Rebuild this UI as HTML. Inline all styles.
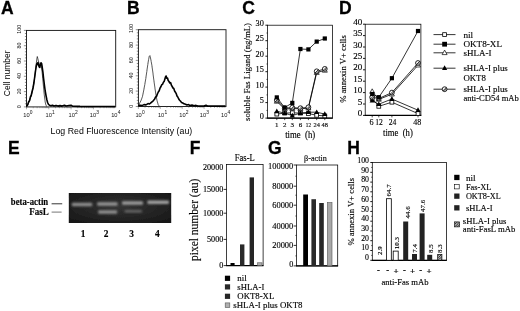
<!DOCTYPE html>
<html><head><meta charset="utf-8"><title>Figure</title>
<style>
html,body{margin:0;padding:0;background:#fff;}
body{width:520px;height:311px;overflow:hidden;}
svg{display:block;}
.se{font-family:'Liberation Serif',serif;stroke:#000;stroke-width:0.14px;}
.sa{font-family:'Liberation Sans',sans-serif;}
</style></head><body>
<svg width="520" height="311" viewBox="0 0 520 311">
<defs>
<pattern id="hat" width="2.4" height="2.4" patternUnits="userSpaceOnUse"><rect width="2.4" height="2.4" fill="#fff"/><path d="M0,2.4 L2.4,0 M-0.6,0.6 L0.6,-0.6 M1.8,3 L3,1.8" stroke="#000" stroke-width="0.85"/></pattern>
<pattern id="hat2" width="2.2" height="2.2" patternUnits="userSpaceOnUse"><rect width="2.2" height="2.2" fill="#fff"/><path d="M0,2.2 L2.2,0 M-0.6,0.6 L0.6,-0.6 M1.6,2.8 L2.8,1.6" stroke="#000" stroke-width="0.5"/></pattern>
<filter id="b1" x="-10%" y="-50%" width="120%" height="200%"><feGaussianBlur stdDeviation="0.9"/></filter>
<filter id="b0"><feGaussianBlur stdDeviation="0.35"/></filter>
<radialGradient id="gel" cx="50%" cy="45%" r="70%"><stop offset="0" stop-color="#343434"/><stop offset="1" stop-color="#161616"/></radialGradient>
</defs>
<rect width="520" height="311" fill="#fff"/>
<g filter="url(#b0)">

<text class="sa" x="0.9" y="14.4" font-size="17.5" font-weight="bold" stroke="#000" stroke-width="0.3">A</text>
<text class="sa" x="127" y="13.6" font-size="17.5" font-weight="bold" stroke="#000" stroke-width="0.3">B</text>
<text class="sa" x="242.2" y="13.8" font-size="17.5" font-weight="bold" stroke="#000" stroke-width="0.3">C</text>
<text class="sa" x="339.1" y="13.6" font-size="17.5" font-weight="bold" stroke="#000" stroke-width="0.3">D</text>
<text class="sa" x="8.1" y="153.6" font-size="17.5" font-weight="bold" stroke="#000" stroke-width="0.3">E</text>
<text class="sa" x="189.7" y="154.2" font-size="17.5" font-weight="bold" stroke="#000" stroke-width="0.3">F</text>
<text class="sa" x="268" y="153.7" font-size="17.5" font-weight="bold" stroke="#000" stroke-width="0.3">G</text>
<text class="sa" x="347.3" y="153.6" font-size="17.5" font-weight="bold" stroke="#000" stroke-width="0.3">H</text>
<rect x="26.5" y="30.4" width="89.2" height="76.5" fill="none" stroke="#111" stroke-width="0.9"/>
<line x1="23.9" y1="106.9" x2="26.5" y2="106.9" stroke="#222" stroke-width="0.5"/>
<line x1="24.9" y1="103.8" x2="26.5" y2="103.8" stroke="#222" stroke-width="0.5"/>
<line x1="24.9" y1="100.8" x2="26.5" y2="100.8" stroke="#222" stroke-width="0.5"/>
<line x1="24.9" y1="97.7" x2="26.5" y2="97.7" stroke="#222" stroke-width="0.5"/>
<line x1="24.9" y1="94.7" x2="26.5" y2="94.7" stroke="#222" stroke-width="0.5"/>
<line x1="23.9" y1="91.6" x2="26.5" y2="91.6" stroke="#222" stroke-width="0.5"/>
<line x1="24.9" y1="88.5" x2="26.5" y2="88.5" stroke="#222" stroke-width="0.5"/>
<line x1="24.9" y1="85.5" x2="26.5" y2="85.5" stroke="#222" stroke-width="0.5"/>
<line x1="24.9" y1="82.4" x2="26.5" y2="82.4" stroke="#222" stroke-width="0.5"/>
<line x1="24.9" y1="79.4" x2="26.5" y2="79.4" stroke="#222" stroke-width="0.5"/>
<line x1="23.9" y1="76.3" x2="26.5" y2="76.3" stroke="#222" stroke-width="0.5"/>
<line x1="24.9" y1="73.2" x2="26.5" y2="73.2" stroke="#222" stroke-width="0.5"/>
<line x1="24.9" y1="70.2" x2="26.5" y2="70.2" stroke="#222" stroke-width="0.5"/>
<line x1="24.9" y1="67.1" x2="26.5" y2="67.1" stroke="#222" stroke-width="0.5"/>
<line x1="24.9" y1="64.1" x2="26.5" y2="64.1" stroke="#222" stroke-width="0.5"/>
<line x1="23.9" y1="61.0" x2="26.5" y2="61.0" stroke="#222" stroke-width="0.5"/>
<line x1="24.9" y1="57.9" x2="26.5" y2="57.9" stroke="#222" stroke-width="0.5"/>
<line x1="24.9" y1="54.9" x2="26.5" y2="54.9" stroke="#222" stroke-width="0.5"/>
<line x1="24.9" y1="51.8" x2="26.5" y2="51.8" stroke="#222" stroke-width="0.5"/>
<line x1="24.9" y1="48.8" x2="26.5" y2="48.8" stroke="#222" stroke-width="0.5"/>
<line x1="23.9" y1="45.7" x2="26.5" y2="45.7" stroke="#222" stroke-width="0.5"/>
<line x1="24.9" y1="42.6" x2="26.5" y2="42.6" stroke="#222" stroke-width="0.5"/>
<line x1="24.9" y1="39.6" x2="26.5" y2="39.6" stroke="#222" stroke-width="0.5"/>
<line x1="24.9" y1="36.5" x2="26.5" y2="36.5" stroke="#222" stroke-width="0.5"/>
<line x1="24.9" y1="33.5" x2="26.5" y2="33.5" stroke="#222" stroke-width="0.5"/>
<line x1="23.9" y1="30.4" x2="26.5" y2="30.4" stroke="#222" stroke-width="0.5"/>
<text class="sa" x="21.3" y="106.7" font-size="5.3" text-anchor="middle" transform="rotate(-90 21.3 106.7)" fill="#111">0</text>
<text class="sa" x="21.3" y="91.4" font-size="5.3" text-anchor="middle" transform="rotate(-90 21.3 91.4)" fill="#111">20</text>
<text class="sa" x="21.3" y="76.1" font-size="5.3" text-anchor="middle" transform="rotate(-90 21.3 76.1)" fill="#111">40</text>
<text class="sa" x="21.3" y="60.8" font-size="5.3" text-anchor="middle" transform="rotate(-90 21.3 60.8)" fill="#111">60</text>
<text class="sa" x="21.3" y="45.5" font-size="5.3" text-anchor="middle" transform="rotate(-90 21.3 45.5)" fill="#111">80</text>
<text class="sa" x="21.3" y="29.2" font-size="5.3" text-anchor="middle" transform="rotate(-90 21.3 29.2)" fill="#111">100</text>
<line x1="26.5" y1="106.9" x2="26.5" y2="109.30000000000001" stroke="#333" stroke-width="0.4"/>
<line x1="33.2" y1="106.9" x2="33.2" y2="108.2" stroke="#333" stroke-width="0.4"/>
<line x1="37.1" y1="106.9" x2="37.1" y2="108.2" stroke="#333" stroke-width="0.4"/>
<line x1="39.9" y1="106.9" x2="39.9" y2="108.2" stroke="#333" stroke-width="0.4"/>
<line x1="42.1" y1="106.9" x2="42.1" y2="108.2" stroke="#333" stroke-width="0.4"/>
<line x1="43.9" y1="106.9" x2="43.9" y2="108.2" stroke="#333" stroke-width="0.4"/>
<line x1="45.3" y1="106.9" x2="45.3" y2="108.2" stroke="#333" stroke-width="0.4"/>
<line x1="46.6" y1="106.9" x2="46.6" y2="108.2" stroke="#333" stroke-width="0.4"/>
<line x1="47.8" y1="106.9" x2="47.8" y2="108.2" stroke="#333" stroke-width="0.4"/>
<line x1="48.8" y1="106.9" x2="48.8" y2="109.30000000000001" stroke="#333" stroke-width="0.4"/>
<line x1="55.5" y1="106.9" x2="55.5" y2="108.2" stroke="#333" stroke-width="0.4"/>
<line x1="59.4" y1="106.9" x2="59.4" y2="108.2" stroke="#333" stroke-width="0.4"/>
<line x1="62.2" y1="106.9" x2="62.2" y2="108.2" stroke="#333" stroke-width="0.4"/>
<line x1="64.4" y1="106.9" x2="64.4" y2="108.2" stroke="#333" stroke-width="0.4"/>
<line x1="66.2" y1="106.9" x2="66.2" y2="108.2" stroke="#333" stroke-width="0.4"/>
<line x1="67.6" y1="106.9" x2="67.6" y2="108.2" stroke="#333" stroke-width="0.4"/>
<line x1="68.9" y1="106.9" x2="68.9" y2="108.2" stroke="#333" stroke-width="0.4"/>
<line x1="70.1" y1="106.9" x2="70.1" y2="108.2" stroke="#333" stroke-width="0.4"/>
<line x1="71.1" y1="106.9" x2="71.1" y2="109.30000000000001" stroke="#333" stroke-width="0.4"/>
<line x1="77.8" y1="106.9" x2="77.8" y2="108.2" stroke="#333" stroke-width="0.4"/>
<line x1="81.7" y1="106.9" x2="81.7" y2="108.2" stroke="#333" stroke-width="0.4"/>
<line x1="84.5" y1="106.9" x2="84.5" y2="108.2" stroke="#333" stroke-width="0.4"/>
<line x1="86.7" y1="106.9" x2="86.7" y2="108.2" stroke="#333" stroke-width="0.4"/>
<line x1="88.5" y1="106.9" x2="88.5" y2="108.2" stroke="#333" stroke-width="0.4"/>
<line x1="89.9" y1="106.9" x2="89.9" y2="108.2" stroke="#333" stroke-width="0.4"/>
<line x1="91.2" y1="106.9" x2="91.2" y2="108.2" stroke="#333" stroke-width="0.4"/>
<line x1="92.4" y1="106.9" x2="92.4" y2="108.2" stroke="#333" stroke-width="0.4"/>
<line x1="93.4" y1="106.9" x2="93.4" y2="109.30000000000001" stroke="#333" stroke-width="0.4"/>
<line x1="100.1" y1="106.9" x2="100.1" y2="108.2" stroke="#333" stroke-width="0.4"/>
<line x1="104.0" y1="106.9" x2="104.0" y2="108.2" stroke="#333" stroke-width="0.4"/>
<line x1="106.8" y1="106.9" x2="106.8" y2="108.2" stroke="#333" stroke-width="0.4"/>
<line x1="109.0" y1="106.9" x2="109.0" y2="108.2" stroke="#333" stroke-width="0.4"/>
<line x1="110.8" y1="106.9" x2="110.8" y2="108.2" stroke="#333" stroke-width="0.4"/>
<line x1="112.2" y1="106.9" x2="112.2" y2="108.2" stroke="#333" stroke-width="0.4"/>
<line x1="113.5" y1="106.9" x2="113.5" y2="108.2" stroke="#333" stroke-width="0.4"/>
<line x1="114.7" y1="106.9" x2="114.7" y2="108.2" stroke="#333" stroke-width="0.4"/>
<text class="sa" x="23.3" y="116.9" font-size="5.7" fill="#111">10</text>
<text class="sa" x="29.8" y="113.9" font-size="4.9" fill="#111">0</text>
<text class="sa" x="45.6" y="116.9" font-size="5.7" fill="#111">10</text>
<text class="sa" x="52.1" y="113.9" font-size="4.9" fill="#111">1</text>
<text class="sa" x="68.5" y="116.9" font-size="5.7" fill="#111">10</text>
<text class="sa" x="75.0" y="113.9" font-size="4.9" fill="#111">2</text>
<text class="sa" x="89.8" y="116.9" font-size="5.7" fill="#111">10</text>
<text class="sa" x="96.3" y="113.9" font-size="4.9" fill="#111">3</text>
<text class="sa" x="111.2" y="116.9" font-size="5.7" fill="#111">10</text>
<text class="sa" x="117.7" y="113.9" font-size="4.9" fill="#111">4</text>
<rect x="138.4" y="29.7" width="87.6" height="76.8" fill="none" stroke="#111" stroke-width="0.9"/>
<line x1="135.8" y1="106.5" x2="138.4" y2="106.5" stroke="#222" stroke-width="0.5"/>
<line x1="136.8" y1="103.4" x2="138.4" y2="103.4" stroke="#222" stroke-width="0.5"/>
<line x1="136.8" y1="100.4" x2="138.4" y2="100.4" stroke="#222" stroke-width="0.5"/>
<line x1="136.8" y1="97.3" x2="138.4" y2="97.3" stroke="#222" stroke-width="0.5"/>
<line x1="136.8" y1="94.2" x2="138.4" y2="94.2" stroke="#222" stroke-width="0.5"/>
<line x1="135.8" y1="91.1" x2="138.4" y2="91.1" stroke="#222" stroke-width="0.5"/>
<line x1="136.8" y1="88.1" x2="138.4" y2="88.1" stroke="#222" stroke-width="0.5"/>
<line x1="136.8" y1="85.0" x2="138.4" y2="85.0" stroke="#222" stroke-width="0.5"/>
<line x1="136.8" y1="81.9" x2="138.4" y2="81.9" stroke="#222" stroke-width="0.5"/>
<line x1="136.8" y1="78.9" x2="138.4" y2="78.9" stroke="#222" stroke-width="0.5"/>
<line x1="135.8" y1="75.8" x2="138.4" y2="75.8" stroke="#222" stroke-width="0.5"/>
<line x1="136.8" y1="72.7" x2="138.4" y2="72.7" stroke="#222" stroke-width="0.5"/>
<line x1="136.8" y1="69.6" x2="138.4" y2="69.6" stroke="#222" stroke-width="0.5"/>
<line x1="136.8" y1="66.6" x2="138.4" y2="66.6" stroke="#222" stroke-width="0.5"/>
<line x1="136.8" y1="63.5" x2="138.4" y2="63.5" stroke="#222" stroke-width="0.5"/>
<line x1="135.8" y1="60.4" x2="138.4" y2="60.4" stroke="#222" stroke-width="0.5"/>
<line x1="136.8" y1="57.3" x2="138.4" y2="57.3" stroke="#222" stroke-width="0.5"/>
<line x1="136.8" y1="54.3" x2="138.4" y2="54.3" stroke="#222" stroke-width="0.5"/>
<line x1="136.8" y1="51.2" x2="138.4" y2="51.2" stroke="#222" stroke-width="0.5"/>
<line x1="136.8" y1="48.1" x2="138.4" y2="48.1" stroke="#222" stroke-width="0.5"/>
<line x1="135.8" y1="45.1" x2="138.4" y2="45.1" stroke="#222" stroke-width="0.5"/>
<line x1="136.8" y1="42.0" x2="138.4" y2="42.0" stroke="#222" stroke-width="0.5"/>
<line x1="136.8" y1="38.9" x2="138.4" y2="38.9" stroke="#222" stroke-width="0.5"/>
<line x1="136.8" y1="35.8" x2="138.4" y2="35.8" stroke="#222" stroke-width="0.5"/>
<line x1="136.8" y1="32.8" x2="138.4" y2="32.8" stroke="#222" stroke-width="0.5"/>
<line x1="135.8" y1="29.7" x2="138.4" y2="29.7" stroke="#222" stroke-width="0.5"/>
<text class="sa" x="133.20000000000002" y="106.3" font-size="5.3" text-anchor="middle" transform="rotate(-90 133.20000000000002 106.3)" fill="#111">0</text>
<text class="sa" x="133.20000000000002" y="90.9" font-size="5.3" text-anchor="middle" transform="rotate(-90 133.20000000000002 90.9)" fill="#111">20</text>
<text class="sa" x="133.20000000000002" y="75.6" font-size="5.3" text-anchor="middle" transform="rotate(-90 133.20000000000002 75.6)" fill="#111">40</text>
<text class="sa" x="133.20000000000002" y="60.2" font-size="5.3" text-anchor="middle" transform="rotate(-90 133.20000000000002 60.2)" fill="#111">60</text>
<text class="sa" x="133.20000000000002" y="44.9" font-size="5.3" text-anchor="middle" transform="rotate(-90 133.20000000000002 44.9)" fill="#111">80</text>
<text class="sa" x="133.20000000000002" y="28.5" font-size="5.3" text-anchor="middle" transform="rotate(-90 133.20000000000002 28.5)" fill="#111">100</text>
<line x1="138.4" y1="106.5" x2="138.4" y2="108.9" stroke="#333" stroke-width="0.4"/>
<line x1="145.0" y1="106.5" x2="145.0" y2="107.8" stroke="#333" stroke-width="0.4"/>
<line x1="148.8" y1="106.5" x2="148.8" y2="107.8" stroke="#333" stroke-width="0.4"/>
<line x1="151.6" y1="106.5" x2="151.6" y2="107.8" stroke="#333" stroke-width="0.4"/>
<line x1="153.7" y1="106.5" x2="153.7" y2="107.8" stroke="#333" stroke-width="0.4"/>
<line x1="155.4" y1="106.5" x2="155.4" y2="107.8" stroke="#333" stroke-width="0.4"/>
<line x1="156.9" y1="106.5" x2="156.9" y2="107.8" stroke="#333" stroke-width="0.4"/>
<line x1="158.2" y1="106.5" x2="158.2" y2="107.8" stroke="#333" stroke-width="0.4"/>
<line x1="159.3" y1="106.5" x2="159.3" y2="107.8" stroke="#333" stroke-width="0.4"/>
<line x1="160.3" y1="106.5" x2="160.3" y2="108.9" stroke="#333" stroke-width="0.4"/>
<line x1="166.9" y1="106.5" x2="166.9" y2="107.8" stroke="#333" stroke-width="0.4"/>
<line x1="170.7" y1="106.5" x2="170.7" y2="107.8" stroke="#333" stroke-width="0.4"/>
<line x1="173.5" y1="106.5" x2="173.5" y2="107.8" stroke="#333" stroke-width="0.4"/>
<line x1="175.6" y1="106.5" x2="175.6" y2="107.8" stroke="#333" stroke-width="0.4"/>
<line x1="177.3" y1="106.5" x2="177.3" y2="107.8" stroke="#333" stroke-width="0.4"/>
<line x1="178.8" y1="106.5" x2="178.8" y2="107.8" stroke="#333" stroke-width="0.4"/>
<line x1="180.1" y1="106.5" x2="180.1" y2="107.8" stroke="#333" stroke-width="0.4"/>
<line x1="181.2" y1="106.5" x2="181.2" y2="107.8" stroke="#333" stroke-width="0.4"/>
<line x1="182.2" y1="106.5" x2="182.2" y2="108.9" stroke="#333" stroke-width="0.4"/>
<line x1="188.8" y1="106.5" x2="188.8" y2="107.8" stroke="#333" stroke-width="0.4"/>
<line x1="192.6" y1="106.5" x2="192.6" y2="107.8" stroke="#333" stroke-width="0.4"/>
<line x1="195.4" y1="106.5" x2="195.4" y2="107.8" stroke="#333" stroke-width="0.4"/>
<line x1="197.5" y1="106.5" x2="197.5" y2="107.8" stroke="#333" stroke-width="0.4"/>
<line x1="199.2" y1="106.5" x2="199.2" y2="107.8" stroke="#333" stroke-width="0.4"/>
<line x1="200.7" y1="106.5" x2="200.7" y2="107.8" stroke="#333" stroke-width="0.4"/>
<line x1="202.0" y1="106.5" x2="202.0" y2="107.8" stroke="#333" stroke-width="0.4"/>
<line x1="203.1" y1="106.5" x2="203.1" y2="107.8" stroke="#333" stroke-width="0.4"/>
<line x1="204.1" y1="106.5" x2="204.1" y2="108.9" stroke="#333" stroke-width="0.4"/>
<line x1="210.7" y1="106.5" x2="210.7" y2="107.8" stroke="#333" stroke-width="0.4"/>
<line x1="214.5" y1="106.5" x2="214.5" y2="107.8" stroke="#333" stroke-width="0.4"/>
<line x1="217.3" y1="106.5" x2="217.3" y2="107.8" stroke="#333" stroke-width="0.4"/>
<line x1="219.4" y1="106.5" x2="219.4" y2="107.8" stroke="#333" stroke-width="0.4"/>
<line x1="221.1" y1="106.5" x2="221.1" y2="107.8" stroke="#333" stroke-width="0.4"/>
<line x1="222.6" y1="106.5" x2="222.6" y2="107.8" stroke="#333" stroke-width="0.4"/>
<line x1="223.9" y1="106.5" x2="223.9" y2="107.8" stroke="#333" stroke-width="0.4"/>
<line x1="225.0" y1="106.5" x2="225.0" y2="107.8" stroke="#333" stroke-width="0.4"/>
<text class="sa" x="135.4" y="116.5" font-size="5.7" fill="#111">10</text>
<text class="sa" x="141.9" y="113.5" font-size="4.9" fill="#111">0</text>
<text class="sa" x="157.9" y="116.5" font-size="5.7" fill="#111">10</text>
<text class="sa" x="164.4" y="113.5" font-size="4.9" fill="#111">1</text>
<text class="sa" x="179.3" y="116.5" font-size="5.7" fill="#111">10</text>
<text class="sa" x="185.8" y="113.5" font-size="4.9" fill="#111">2</text>
<text class="sa" x="199.8" y="116.5" font-size="5.7" fill="#111">10</text>
<text class="sa" x="206.3" y="113.5" font-size="4.9" fill="#111">3</text>
<text class="sa" x="221.0" y="116.5" font-size="5.7" fill="#111">10</text>
<text class="sa" x="227.5" y="113.5" font-size="4.9" fill="#111">4</text>
<polyline points="26.8,106.4 28.5,103.0 30.0,99.0 31.5,94.5 33.0,88.0 34.2,81.0 35.2,73.0 36.0,66.0 36.7,60.0 37.3,56.5 37.8,58.5 38.4,61.0 39.0,63.0 39.8,66.0 40.6,64.0 41.3,66.0 42.0,71.0 42.8,79.0 43.6,88.0 44.4,96.0 45.2,102.0 46.0,105.5 47.0,106.4" fill="none" stroke="#111" stroke-width="0.7" stroke-linejoin="round"/>
<polyline points="26.8,106.2 27.8,104.5 28.6,102.0 29.6,100.5 30.4,97.0 31.2,95.5 32.0,92.0 33.0,88.0 33.9,83.0 34.7,77.0 35.5,71.0 36.2,66.5 36.9,63.5 37.5,64.5 38.0,62.5 38.6,65.0 39.2,67.0 39.8,67.5 40.4,64.5 41.0,62.8 41.6,63.5 42.2,67.0 42.9,72.0 43.6,78.5 44.4,85.0 45.2,91.0 46.0,95.5 46.8,99.5 47.6,102.5 48.4,104.2 49.5,105.3 51.0,105.8 52.5,105.2 54.0,106.0 56.0,105.4 58.0,106.1 60.0,105.6 62.0,106.1 64.5,105.2 66.0,106.0 69.0,105.5 71.0,105.2 72.5,106.2 80.0,106.4 115.0,106.5" fill="none" stroke="#000" stroke-width="1.6" stroke-linejoin="round"/>
<polyline points="138.6,105.9 139.5,103.5 141.0,100.5 142.4,96.8 143.6,91.0 144.8,84.5 145.8,78.5 146.8,71.5 147.8,64.5 148.6,59.5 149.3,56.2 149.9,55.6 150.5,58.0 151.2,61.5 151.9,65.5 152.8,72.0 153.7,79.0 154.8,87.0 155.9,94.6 157.0,100.5 158.2,104.7 159.2,106.0" fill="none" stroke="#111" stroke-width="0.7" stroke-linejoin="round"/>
<polyline points="138.6,106.0 140.0,105.3 142.0,105.6 144.0,104.6 146.0,104.9 148.0,103.6 149.5,104.0 150.5,103.2 152.0,101.8 153.2,100.8 154.5,99.3 155.5,97.2 156.5,96.4 157.4,94.0 158.3,92.0 159.2,90.8 160.0,88.2 161.0,86.5 161.8,84.6 162.6,84.2 163.4,82.2 164.2,81.4 164.9,79.0 165.5,77.0 166.1,76.0 166.8,78.2 167.5,78.0 168.2,80.5 169.0,81.5 169.8,83.0 170.6,82.6 171.4,85.2 172.2,86.5 173.0,88.0 173.8,88.5 174.6,91.0 175.4,92.2 176.2,93.6 177.0,96.0 177.8,97.0 178.6,98.8 179.6,100.2 180.6,101.2 181.6,102.6 182.8,103.0 184.0,103.8 185.5,104.2 187.0,105.0 188.5,104.6 190.0,105.5 192.0,105.1 194.0,105.8 196.0,105.4 198.0,106.0 204.0,106.0 206.0,105.3 207.5,106.0 225.5,106.1" fill="none" stroke="#000" stroke-width="1.6" stroke-linejoin="round"/>
<text class="sa" x="9.6" y="96.2" font-size="9.4" transform="rotate(-90 9.6 96.2)" textLength="45.8" lengthAdjust="spacingAndGlyphs">Cell number</text>
<text class="sa" x="50.6" y="134.2" font-size="9.4" textLength="141.6" lengthAdjust="spacingAndGlyphs">Log Red Fluorescence Intensity (au)</text>
<rect x="267.6" y="25.2" width="64.79999999999995" height="92.89999999999999" fill="none" stroke="#000" stroke-width="0.75"/>
<line x1="267.20000000000005" y1="118.1" x2="332.79999999999995" y2="118.1" stroke="#000" stroke-width="1.15"/>
<line x1="265.40000000000003" y1="118.1" x2="267.6" y2="118.1" stroke="#000" stroke-width="0.9"/>
<line x1="266.40000000000003" y1="110.4" x2="267.6" y2="110.4" stroke="#000" stroke-width="0.6"/>
<text class="se" x="263.9" y="118.7" font-size="7.7" text-anchor="end" textLength="4.15" lengthAdjust="spacingAndGlyphs">0</text>
<line x1="265.40000000000003" y1="102.6" x2="267.6" y2="102.6" stroke="#000" stroke-width="0.9"/>
<line x1="266.40000000000003" y1="94.9" x2="267.6" y2="94.9" stroke="#000" stroke-width="0.6"/>
<text class="se" x="263.9" y="103.2" font-size="7.7" text-anchor="end" textLength="4.15" lengthAdjust="spacingAndGlyphs">5</text>
<line x1="265.40000000000003" y1="87.1" x2="267.6" y2="87.1" stroke="#000" stroke-width="0.9"/>
<line x1="266.40000000000003" y1="79.4" x2="267.6" y2="79.4" stroke="#000" stroke-width="0.6"/>
<text class="se" x="263.9" y="87.7" font-size="7.7" text-anchor="end" textLength="8.3" lengthAdjust="spacingAndGlyphs">10</text>
<line x1="265.40000000000003" y1="71.7" x2="267.6" y2="71.7" stroke="#000" stroke-width="0.9"/>
<line x1="266.40000000000003" y1="64.0" x2="267.6" y2="64.0" stroke="#000" stroke-width="0.6"/>
<text class="se" x="263.9" y="72.2" font-size="7.7" text-anchor="end" textLength="8.3" lengthAdjust="spacingAndGlyphs">15</text>
<line x1="265.40000000000003" y1="56.2" x2="267.6" y2="56.2" stroke="#000" stroke-width="0.9"/>
<line x1="266.40000000000003" y1="48.5" x2="267.6" y2="48.5" stroke="#000" stroke-width="0.6"/>
<text class="se" x="263.9" y="56.8" font-size="7.7" text-anchor="end" textLength="8.3" lengthAdjust="spacingAndGlyphs">20</text>
<line x1="265.40000000000003" y1="40.7" x2="267.6" y2="40.7" stroke="#000" stroke-width="0.9"/>
<line x1="266.40000000000003" y1="33.0" x2="267.6" y2="33.0" stroke="#000" stroke-width="0.6"/>
<text class="se" x="263.9" y="41.3" font-size="7.7" text-anchor="end" textLength="8.3" lengthAdjust="spacingAndGlyphs">25</text>
<line x1="265.40000000000003" y1="25.2" x2="267.6" y2="25.2" stroke="#000" stroke-width="0.9"/>
<text class="se" x="263.9" y="25.8" font-size="7.7" text-anchor="end" textLength="8.3" lengthAdjust="spacingAndGlyphs">30</text>
<line x1="276.8" y1="118.1" x2="276.8" y2="120.1" stroke="#000" stroke-width="0.7"/>
<text class="se" x="276.8" y="126.8" font-size="6.6" text-anchor="middle" textLength="3.5" lengthAdjust="spacingAndGlyphs">1</text>
<line x1="284.7" y1="118.1" x2="284.7" y2="120.1" stroke="#000" stroke-width="0.7"/>
<text class="se" x="284.7" y="126.8" font-size="6.6" text-anchor="middle" textLength="3.5" lengthAdjust="spacingAndGlyphs">2</text>
<line x1="292.3" y1="118.1" x2="292.3" y2="120.1" stroke="#000" stroke-width="0.7"/>
<text class="se" x="292.3" y="126.8" font-size="6.6" text-anchor="middle" textLength="3.5" lengthAdjust="spacingAndGlyphs">3</text>
<line x1="300.4" y1="118.1" x2="300.4" y2="120.1" stroke="#000" stroke-width="0.7"/>
<text class="se" x="300.4" y="126.8" font-size="6.6" text-anchor="middle" textLength="3.5" lengthAdjust="spacingAndGlyphs">6</text>
<line x1="308.4" y1="118.1" x2="308.4" y2="120.1" stroke="#000" stroke-width="0.7"/>
<text class="se" x="308.4" y="126.8" font-size="6.6" text-anchor="middle" textLength="5.2" lengthAdjust="spacingAndGlyphs">12</text>
<line x1="316.7" y1="118.1" x2="316.7" y2="120.1" stroke="#000" stroke-width="0.7"/>
<text class="se" x="316.7" y="126.8" font-size="6.6" text-anchor="middle" textLength="6.4" lengthAdjust="spacingAndGlyphs">24</text>
<line x1="324.8" y1="118.1" x2="324.8" y2="120.1" stroke="#000" stroke-width="0.7"/>
<text class="se" x="324.8" y="126.8" font-size="6.6" text-anchor="middle" textLength="6.4" lengthAdjust="spacingAndGlyphs">48</text>
<text class="se" x="285.2" y="137.5" font-size="9.4" textLength="30" lengthAdjust="spacingAndGlyphs" xml:space="preserve">time  (h)</text>
<text class="se" x="250.2" y="121" font-size="9" transform="rotate(-90 250.2 121)" textLength="98" lengthAdjust="spacingAndGlyphs">soluble Fas Ligand (ng/mL)</text>
<polyline points="276.8,114.1 284.7,113.1 292.3,112.8 300.4,113.1 308.4,113.5 316.7,115.3 324.8,115.9" fill="none" stroke="#000" stroke-width="0.8" stroke-linejoin="round"/>
<rect x="274.9" y="112.2" width="3.8" height="3.8" fill="#fff" stroke="#000" stroke-width="0.8"/>
<rect x="282.8" y="111.2" width="3.8" height="3.8" fill="#fff" stroke="#000" stroke-width="0.8"/>
<rect x="290.4" y="110.9" width="3.8" height="3.8" fill="#fff" stroke="#000" stroke-width="0.8"/>
<rect x="298.5" y="111.2" width="3.8" height="3.8" fill="#fff" stroke="#000" stroke-width="0.8"/>
<rect x="306.5" y="111.6" width="3.8" height="3.8" fill="#fff" stroke="#000" stroke-width="0.8"/>
<rect x="314.8" y="113.4" width="3.8" height="3.8" fill="#fff" stroke="#000" stroke-width="0.8"/>
<rect x="322.9" y="114.0" width="3.8" height="3.8" fill="#fff" stroke="#000" stroke-width="0.8"/>
<polyline points="276.8,111.3 284.7,113.1 292.3,115.6 300.4,113.1 308.4,112.2 316.7,112.2 324.8,114.1" fill="none" stroke="#000" stroke-width="0.8" stroke-linejoin="round"/>
<polygon points="276.8,108.4 274.2,113.2 279.4,113.2" fill="#000"/>
<polygon points="284.7,110.3 282.1,115.1 287.3,115.1" fill="#000"/>
<polygon points="292.3,112.8 289.7,117.5 294.9,117.5" fill="#000"/>
<polygon points="300.4,110.3 297.8,115.1 303.0,115.1" fill="#000"/>
<polygon points="308.4,109.4 305.8,114.1 311.0,114.1" fill="#000"/>
<polygon points="316.7,109.4 314.1,114.1 319.3,114.1" fill="#000"/>
<polygon points="324.8,111.2 322.2,116.0 327.4,116.0" fill="#000"/>
<polyline points="276.8,101.4 284.7,109.1 292.3,108.5 300.4,108.8 308.4,108.2 316.7,72.6 324.8,70.4" fill="none" stroke="#000" stroke-width="0.8" stroke-linejoin="round"/>
<polygon points="276.8,98.7 274.3,103.2 279.3,103.2" fill="#fff" stroke="#000" stroke-width="0.7"/>
<polygon points="284.7,106.4 282.2,110.9 287.2,110.9" fill="#fff" stroke="#000" stroke-width="0.7"/>
<polygon points="292.3,105.8 289.8,110.3 294.8,110.3" fill="#fff" stroke="#000" stroke-width="0.7"/>
<polygon points="300.4,106.1 297.9,110.6 302.9,110.6" fill="#fff" stroke="#000" stroke-width="0.7"/>
<polygon points="308.4,105.5 305.9,110.0 310.9,110.0" fill="#fff" stroke="#000" stroke-width="0.7"/>
<polygon points="316.7,69.9 314.2,74.4 319.2,74.4" fill="#fff" stroke="#000" stroke-width="0.7"/>
<polygon points="324.8,67.7 322.3,72.2 327.3,72.2" fill="#fff" stroke="#000" stroke-width="0.7"/>
<polyline points="276.8,100.1 284.7,108.2 292.3,107.6 300.4,108.2 308.4,107.3 316.7,71.3 324.8,68.9" fill="none" stroke="#000" stroke-width="0.8" stroke-linejoin="round"/>
<circle cx="276.8" cy="100.1" r="2.4" fill="#fff" stroke="#000" stroke-width="0.85"/>
<path d="M275.10,101.84 L278.50,98.44 M276.40,102.04 L278.70,99.74" stroke="#000" stroke-width="0.8" fill="none"/>
<circle cx="284.7" cy="108.2" r="2.4" fill="#fff" stroke="#000" stroke-width="0.85"/>
<path d="M283.00,109.89 L286.40,106.49 M284.30,110.09 L286.60,107.79" stroke="#000" stroke-width="0.8" fill="none"/>
<circle cx="292.3" cy="107.6" r="2.4" fill="#fff" stroke="#000" stroke-width="0.85"/>
<path d="M290.60,109.27 L294.00,105.87 M291.90,109.47 L294.20,107.17" stroke="#000" stroke-width="0.8" fill="none"/>
<circle cx="300.4" cy="108.2" r="2.4" fill="#fff" stroke="#000" stroke-width="0.85"/>
<path d="M298.70,109.89 L302.10,106.49 M300.00,110.09 L302.30,107.79" stroke="#000" stroke-width="0.8" fill="none"/>
<circle cx="308.4" cy="107.3" r="2.4" fill="#fff" stroke="#000" stroke-width="0.85"/>
<path d="M306.70,108.96 L310.10,105.56 M308.00,109.16 L310.30,106.86" stroke="#000" stroke-width="0.8" fill="none"/>
<circle cx="316.7" cy="71.3" r="2.4" fill="#fff" stroke="#000" stroke-width="0.85"/>
<path d="M315.00,73.04 L318.40,69.64 M316.30,73.24 L318.60,70.94" stroke="#000" stroke-width="0.8" fill="none"/>
<circle cx="324.8" cy="68.9" r="2.4" fill="#fff" stroke="#000" stroke-width="0.85"/>
<path d="M323.10,70.56 L326.50,67.17 M324.40,70.76 L326.70,68.47" stroke="#000" stroke-width="0.8" fill="none"/>
<polyline points="276.8,97.4 284.7,107.6 292.3,102.9 300.4,49.0 308.4,49.4 316.7,41.6 324.8,38.5" fill="none" stroke="#000" stroke-width="0.8" stroke-linejoin="round"/>
<rect x="274.7" y="95.3" width="4.2" height="4.2" fill="#000"/>
<rect x="282.6" y="105.5" width="4.2" height="4.2" fill="#000"/>
<rect x="290.2" y="100.8" width="4.2" height="4.2" fill="#000"/>
<rect x="298.3" y="46.9" width="4.2" height="4.2" fill="#000"/>
<rect x="306.3" y="47.3" width="4.2" height="4.2" fill="#000"/>
<rect x="314.6" y="39.5" width="4.2" height="4.2" fill="#000"/>
<rect x="322.7" y="36.4" width="4.2" height="4.2" fill="#000"/>
<rect x="365.2" y="24.2" width="55.69999999999999" height="91.2" fill="none" stroke="#000" stroke-width="0.75"/>
<line x1="364.8" y1="115.4" x2="421.29999999999995" y2="115.4" stroke="#000" stroke-width="1.15"/>
<line x1="363.0" y1="115.4" x2="365.2" y2="115.4" stroke="#000" stroke-width="0.9"/>
<text class="se" x="362.2" y="116.0" font-size="7.8" text-anchor="end" textLength="4.5" lengthAdjust="spacingAndGlyphs">0</text>
<line x1="363.0" y1="104.0" x2="365.2" y2="104.0" stroke="#000" stroke-width="0.9"/>
<text class="se" x="362.2" y="104.6" font-size="7.8" text-anchor="end" textLength="4.5" lengthAdjust="spacingAndGlyphs">5</text>
<line x1="363.0" y1="92.6" x2="365.2" y2="92.6" stroke="#000" stroke-width="0.9"/>
<text class="se" x="362.2" y="93.2" font-size="7.8" text-anchor="end" textLength="9.0" lengthAdjust="spacingAndGlyphs">10</text>
<line x1="363.0" y1="81.2" x2="365.2" y2="81.2" stroke="#000" stroke-width="0.9"/>
<text class="se" x="362.2" y="81.8" font-size="7.8" text-anchor="end" textLength="9.0" lengthAdjust="spacingAndGlyphs">15</text>
<line x1="363.0" y1="69.8" x2="365.2" y2="69.8" stroke="#000" stroke-width="0.9"/>
<text class="se" x="362.2" y="70.4" font-size="7.8" text-anchor="end" textLength="9.0" lengthAdjust="spacingAndGlyphs">20</text>
<line x1="363.0" y1="58.4" x2="365.2" y2="58.4" stroke="#000" stroke-width="0.9"/>
<text class="se" x="362.2" y="59.0" font-size="7.8" text-anchor="end" textLength="9.0" lengthAdjust="spacingAndGlyphs">25</text>
<line x1="363.0" y1="47.0" x2="365.2" y2="47.0" stroke="#000" stroke-width="0.9"/>
<text class="se" x="362.2" y="47.6" font-size="7.8" text-anchor="end" textLength="9.0" lengthAdjust="spacingAndGlyphs">30</text>
<line x1="363.0" y1="35.6" x2="365.2" y2="35.6" stroke="#000" stroke-width="0.9"/>
<text class="se" x="362.2" y="36.2" font-size="7.8" text-anchor="end" textLength="9.0" lengthAdjust="spacingAndGlyphs">35</text>
<line x1="363.0" y1="24.2" x2="365.2" y2="24.2" stroke="#000" stroke-width="0.9"/>
<text class="se" x="362.2" y="24.8" font-size="7.8" text-anchor="end" textLength="9.0" lengthAdjust="spacingAndGlyphs">40</text>
<line x1="372.2" y1="115.4" x2="372.2" y2="117.4" stroke="#000" stroke-width="0.7"/>
<line x1="378.8" y1="115.4" x2="378.8" y2="117.4" stroke="#000" stroke-width="0.7"/>
<line x1="391.9" y1="115.4" x2="391.9" y2="117.4" stroke="#000" stroke-width="0.7"/>
<line x1="418.0" y1="115.4" x2="418.0" y2="117.4" stroke="#000" stroke-width="0.7"/>
<text class="se" x="371.5" y="125.2" font-size="8.2" text-anchor="middle">6</text>
<text class="se" x="379.1" y="125.2" font-size="8.2" text-anchor="middle" textLength="7.6" lengthAdjust="spacingAndGlyphs">12</text>
<text class="se" x="392.5" y="125.2" font-size="8.2" text-anchor="middle" textLength="7.6" lengthAdjust="spacingAndGlyphs">24</text>
<text class="se" x="417.2" y="125.2" font-size="8.2" text-anchor="middle" textLength="8" lengthAdjust="spacingAndGlyphs">48</text>
<text class="se" x="383" y="136.1" font-size="9.4" textLength="29.8" lengthAdjust="spacingAndGlyphs" xml:space="preserve">time  (h)</text>
<text class="se" x="346.4" y="102.8" font-size="9" transform="rotate(-90 346.4 102.8)" textLength="67.6" lengthAdjust="spacingAndGlyphs">% annexin V+ cells</text>
<polyline points="372.2,98.5 378.8,106.3 391.9,102.2 418.0,113.6" fill="none" stroke="#000" stroke-width="0.8" stroke-linejoin="round"/>
<rect x="370.3" y="96.6" width="3.8" height="3.8" fill="#fff" stroke="#000" stroke-width="0.8"/>
<rect x="376.9" y="104.4" width="3.8" height="3.8" fill="#fff" stroke="#000" stroke-width="0.8"/>
<rect x="390.0" y="100.3" width="3.8" height="3.8" fill="#fff" stroke="#000" stroke-width="0.8"/>
<rect x="416.1" y="111.7" width="3.8" height="3.8" fill="#fff" stroke="#000" stroke-width="0.8"/>
<polyline points="372.2,100.6 378.8,104.2 391.9,99.0 418.0,110.2" fill="none" stroke="#000" stroke-width="0.8" stroke-linejoin="round"/>
<polygon points="372.2,97.7 369.6,102.5 374.9,102.5" fill="#000"/>
<polygon points="378.8,101.4 376.1,106.1 381.4,106.1" fill="#000"/>
<polygon points="391.9,96.1 389.2,100.9 394.5,100.9" fill="#000"/>
<polygon points="418.0,107.3 415.4,112.1 420.7,112.1" fill="#000"/>
<polyline points="372.2,91.5 378.8,99.4 391.9,94.2 418.0,65.2" fill="none" stroke="#000" stroke-width="0.8" stroke-linejoin="round"/>
<polygon points="372.2,88.8 369.7,93.3 374.7,93.3" fill="#fff" stroke="#000" stroke-width="0.7"/>
<polygon points="378.8,96.7 376.3,101.2 381.3,101.2" fill="#fff" stroke="#000" stroke-width="0.7"/>
<polygon points="391.9,91.5 389.4,96.0 394.4,96.0" fill="#fff" stroke="#000" stroke-width="0.7"/>
<polygon points="418.0,62.5 415.5,67.0 420.5,67.0" fill="#fff" stroke="#000" stroke-width="0.7"/>
<polyline points="372.2,97.2 378.8,98.5 391.9,92.6 418.0,63.0" fill="none" stroke="#000" stroke-width="0.8" stroke-linejoin="round"/>
<circle cx="372.2" cy="97.2" r="2.4" fill="#fff" stroke="#000" stroke-width="0.85"/>
<path d="M370.54,98.86 L373.94,95.46 M371.84,99.06 L374.14,96.76" stroke="#000" stroke-width="0.8" fill="none"/>
<circle cx="378.8" cy="98.5" r="2.4" fill="#fff" stroke="#000" stroke-width="0.85"/>
<path d="M377.08,100.23 L380.48,96.83 M378.38,100.43 L380.68,98.13" stroke="#000" stroke-width="0.8" fill="none"/>
<circle cx="391.9" cy="92.6" r="2.4" fill="#fff" stroke="#000" stroke-width="0.85"/>
<path d="M390.16,94.30 L393.56,90.90 M391.46,94.50 L393.76,92.20" stroke="#000" stroke-width="0.8" fill="none"/>
<circle cx="418.0" cy="63.0" r="2.4" fill="#fff" stroke="#000" stroke-width="0.85"/>
<path d="M416.32,64.66 L419.72,61.26 M417.62,64.86 L419.92,62.56" stroke="#000" stroke-width="0.8" fill="none"/>
<polyline points="372.2,94.0 378.8,97.2 391.9,78.2 418.0,31.0" fill="none" stroke="#000" stroke-width="0.8" stroke-linejoin="round"/>
<rect x="370.1" y="91.9" width="4.2" height="4.2" fill="#000"/>
<rect x="376.7" y="95.1" width="4.2" height="4.2" fill="#000"/>
<rect x="389.8" y="76.1" width="4.2" height="4.2" fill="#000"/>
<rect x="415.9" y="28.9" width="4.2" height="4.2" fill="#000"/>
<line x1="433.5" y1="34.6" x2="455.5" y2="34.6" stroke="#000" stroke-width="0.8"/>
<rect x="442.7" y="32.7" width="3.8" height="3.8" fill="#fff" stroke="#000" stroke-width="0.8"/>
<text class="se" x="463.4" y="37.5" font-size="9.2">nil</text>
<line x1="433.5" y1="44.2" x2="455.5" y2="44.2" stroke="#000" stroke-width="0.8"/>
<rect x="442.2" y="41.8" width="4.8" height="4.8" fill="#000"/>
<text class="se" x="463.4" y="47.1" font-size="9.2" textLength="38.6" lengthAdjust="spacingAndGlyphs">OKT8-XL</text>
<line x1="433.5" y1="52.8" x2="455.5" y2="52.8" stroke="#000" stroke-width="0.8"/>
<polygon points="444.6,50.1 442.1,54.6 447.1,54.6" fill="#fff" stroke="#000" stroke-width="0.7"/>
<text class="se" x="463.4" y="55.9" font-size="9.2" textLength="28" lengthAdjust="spacingAndGlyphs">sHLA-I</text>
<line x1="433.5" y1="68.2" x2="455.5" y2="68.2" stroke="#000" stroke-width="0.8"/>
<polygon points="444.6,65.3 442.0,70.1 447.2,70.1" fill="#000"/>
<text class="se" x="463.4" y="71.1" font-size="9.2" textLength="44.4" lengthAdjust="spacingAndGlyphs">sHLA-I plus</text>
<text class="se" x="463.4" y="80.7" font-size="9.2" textLength="22.5" lengthAdjust="spacingAndGlyphs">OKT8</text>
<line x1="433.5" y1="89.2" x2="455.5" y2="89.2" stroke="#000" stroke-width="0.8"/>
<circle cx="444.6" cy="89.2" r="2.4" fill="#fff" stroke="#000" stroke-width="0.85"/>
<path d="M442.90,90.90 L446.30,87.50 M444.20,91.10 L446.50,88.80" stroke="#000" stroke-width="0.8" fill="none"/>
<text class="se" x="463.4" y="92.1" font-size="9.2" textLength="44.4" lengthAdjust="spacingAndGlyphs">sHLA-I plus</text>
<text class="se" x="463.4" y="101.1" font-size="9.2" textLength="55.4" lengthAdjust="spacingAndGlyphs">anti-CD54 mAb</text>
<rect x="68.8" y="193" width="102.4" height="30" fill="url(#gel)"/>
<rect x="71.8" y="202.7" width="20.4" height="3.6" rx="1" fill="#8c8c8c" opacity="1" filter="url(#b1)"/>
<rect x="97.2" y="202.2" width="20.4" height="3.6" rx="1" fill="#929292" opacity="1" filter="url(#b1)"/>
<rect x="98.2" y="210.2" width="19.0" height="3.6" rx="1" fill="#8e8e8e" opacity="1" filter="url(#b1)"/>
<rect x="122" y="201.2" width="21.0" height="3.6" rx="1" fill="#9a9a9a" opacity="1" filter="url(#b1)"/>
<rect x="124.5" y="209.9" width="17.5" height="2.6" rx="1" fill="#686868" opacity="1" filter="url(#b1)"/>
<rect x="147.4" y="200.5" width="21.6" height="3.6" rx="1" fill="#a0a0a0" opacity="1" filter="url(#b1)"/>
<text class="se" x="83" y="236.6" font-size="9.4" text-anchor="middle" font-weight="bold">1</text>
<text class="se" x="106" y="236.6" font-size="9.4" text-anchor="middle" font-weight="bold">2</text>
<text class="se" x="131.5" y="236.6" font-size="9.4" text-anchor="middle" font-weight="bold">3</text>
<text class="se" x="157.4" y="236.6" font-size="9.4" text-anchor="middle" font-weight="bold">4</text>
<text class="se" x="10.8" y="205.0" font-size="9.6" font-weight="bold" textLength="37.4" lengthAdjust="spacingAndGlyphs">beta-actin</text>
<text class="se" x="29.3" y="215.1" font-size="9.6" font-weight="bold" textLength="19.6" lengthAdjust="spacingAndGlyphs">FasL</text>
<line x1="51.6" y1="203.8" x2="62.2" y2="203.8" stroke="#222" stroke-width="0.9"/>
<line x1="51.6" y1="212.1" x2="61.6" y2="212.1" stroke="#666" stroke-width="0.9"/>
<rect x="226.6" y="164.5" width="36.50000000000003" height="101.10000000000002" fill="none" stroke="#000" stroke-width="0.75"/>
<line x1="226.2" y1="265.6" x2="263.5" y2="265.6" stroke="#000" stroke-width="1.15"/>
<line x1="223.6" y1="265.6" x2="226.6" y2="265.6" stroke="#000" stroke-width="0.8"/>
<text class="se" x="223.3" y="268.4" font-size="8.2" text-anchor="end" textLength="4.08" lengthAdjust="spacingAndGlyphs">0</text>
<line x1="223.6" y1="239.4" x2="226.6" y2="239.4" stroke="#000" stroke-width="0.8"/>
<text class="se" x="223.3" y="242.2" font-size="8.2" text-anchor="end" textLength="16.32" lengthAdjust="spacingAndGlyphs">5000</text>
<line x1="223.6" y1="213.2" x2="226.6" y2="213.2" stroke="#000" stroke-width="0.8"/>
<text class="se" x="223.3" y="216.0" font-size="8.2" text-anchor="end" textLength="20.4" lengthAdjust="spacingAndGlyphs">10000</text>
<line x1="223.6" y1="189.4" x2="226.6" y2="189.4" stroke="#000" stroke-width="0.8"/>
<text class="se" x="223.3" y="192.2" font-size="8.2" text-anchor="end" textLength="20.4" lengthAdjust="spacingAndGlyphs">15000</text>
<text class="se" x="223.3" y="169.8" font-size="8.2" text-anchor="end" textLength="20.4" lengthAdjust="spacingAndGlyphs">20000</text>
<text class="se" x="234.8" y="161.0" font-size="9.4" textLength="20" lengthAdjust="spacingAndGlyphs">Fas-L</text>
<text class="se" x="197.6" y="261" font-size="11.6" transform="rotate(-90 197.6 261)" textLength="82.4" lengthAdjust="spacingAndGlyphs">pixel number (au)</text>
<rect x="230.5" y="263.0" width="4.1" height="2.6" fill="#000" stroke="none" stroke-width="0.6"/>
<rect x="240.0" y="244.4" width="4.4" height="21.2" fill="#2c2c2c" stroke="none" stroke-width="0.6"/>
<rect x="249.6" y="177.4" width="4.4" height="88.2" fill="#262626" stroke="none" stroke-width="0.6"/>
<rect x="257.6" y="262.8" width="4.4" height="2.8" fill="#b0b0b0" stroke="#555" stroke-width="0.6"/>
<rect x="224.9" y="275.7" width="5.2" height="5.2" fill="#000" stroke="none" stroke-width="0.6"/>
<text class="se" x="237.3" y="281.2" font-size="8.8">nil</text>
<rect x="224.9" y="284.3" width="5.2" height="5.2" fill="#2c2c2c" stroke="none" stroke-width="0.6"/>
<text class="se" x="237.3" y="289.8" font-size="8.8" textLength="27" lengthAdjust="spacingAndGlyphs">sHLA-I</text>
<rect x="224.9" y="293.7" width="5.2" height="5.2" fill="#262626" stroke="none" stroke-width="0.6"/>
<text class="se" x="237.3" y="299.2" font-size="8.8" textLength="37" lengthAdjust="spacingAndGlyphs">OKT8-XL</text>
<rect x="225.2" y="302.9" width="4.6" height="4.6" fill="#b0b0b0" stroke="#555" stroke-width="0.6"/>
<text class="se" x="233.3" y="308.2" font-size="8.8" textLength="69.2" lengthAdjust="spacingAndGlyphs">sHLA-I plus OKT8</text>
<rect x="296.5" y="165.0" width="41.19999999999999" height="100.89999999999998" fill="none" stroke="#000" stroke-width="0.75"/>
<line x1="296.1" y1="265.9" x2="338.09999999999997" y2="265.9" stroke="#000" stroke-width="1.15"/>
<line x1="293.6" y1="265.9" x2="296.5" y2="265.9" stroke="#000" stroke-width="0.8"/>
<line x1="295.3" y1="255.9" x2="296.5" y2="255.9" stroke="#000" stroke-width="0.6"/>
<text class="se" x="293.3" y="266.6" font-size="8.2" text-anchor="end">0</text>
<line x1="293.6" y1="245.4" x2="296.5" y2="245.4" stroke="#000" stroke-width="0.8"/>
<line x1="295.3" y1="235.4" x2="296.5" y2="235.4" stroke="#000" stroke-width="0.6"/>
<text class="se" x="293.3" y="248.2" font-size="8.2" text-anchor="end" textLength="21.099999999999998" lengthAdjust="spacingAndGlyphs">20000</text>
<line x1="293.6" y1="226.0" x2="296.5" y2="226.0" stroke="#000" stroke-width="0.8"/>
<line x1="295.3" y1="216.0" x2="296.5" y2="216.0" stroke="#000" stroke-width="0.6"/>
<text class="se" x="293.3" y="228.8" font-size="8.2" text-anchor="end" textLength="21.099999999999998" lengthAdjust="spacingAndGlyphs">40000</text>
<line x1="293.6" y1="205.2" x2="296.5" y2="205.2" stroke="#000" stroke-width="0.8"/>
<line x1="295.3" y1="195.2" x2="296.5" y2="195.2" stroke="#000" stroke-width="0.6"/>
<text class="se" x="293.3" y="208.0" font-size="8.2" text-anchor="end" textLength="21.099999999999998" lengthAdjust="spacingAndGlyphs">60000</text>
<line x1="293.6" y1="186.2" x2="296.5" y2="186.2" stroke="#000" stroke-width="0.8"/>
<line x1="295.3" y1="176.2" x2="296.5" y2="176.2" stroke="#000" stroke-width="0.6"/>
<text class="se" x="293.3" y="189.0" font-size="8.2" text-anchor="end" textLength="21.099999999999998" lengthAdjust="spacingAndGlyphs">80000</text>
<line x1="293.6" y1="165.0" x2="296.5" y2="165.0" stroke="#000" stroke-width="0.8"/>
<text class="se" x="293.3" y="169.0" font-size="8.2" text-anchor="end" textLength="25.32" lengthAdjust="spacingAndGlyphs">100000</text>
<text class="se" x="304.0" y="161.2" font-size="9.2" textLength="22.8" lengthAdjust="spacingAndGlyphs">β-actin</text>
<rect x="303.2" y="194.5" width="4.8" height="71.4" fill="#000" stroke="none" stroke-width="0.6"/>
<rect x="311.4" y="199.2" width="4.6" height="66.7" fill="#2c2c2c" stroke="none" stroke-width="0.6"/>
<rect x="319.2" y="203.0" width="4.6" height="62.9" fill="#262626" stroke="none" stroke-width="0.6"/>
<rect x="327.4" y="202.6" width="4.6" height="63.3" fill="#a8a8a8" stroke="#555" stroke-width="0.6"/>
<rect x="372.3" y="162.5" width="74.09999999999997" height="97.80000000000001" fill="none" stroke="#000" stroke-width="0.75"/>
<line x1="371.90000000000003" y1="260.3" x2="446.79999999999995" y2="260.3" stroke="#000" stroke-width="1.15"/>
<line x1="370.3" y1="260.3" x2="372.3" y2="260.3" stroke="#000" stroke-width="0.9"/>
<line x1="371.1" y1="255.4" x2="372.3" y2="255.4" stroke="#000" stroke-width="0.6"/>
<text class="se" x="369.0" y="260.0" font-size="7.8" text-anchor="end" textLength="3.9" lengthAdjust="spacingAndGlyphs">0</text>
<line x1="370.3" y1="250.5" x2="372.3" y2="250.5" stroke="#000" stroke-width="0.9"/>
<line x1="371.1" y1="245.6" x2="372.3" y2="245.6" stroke="#000" stroke-width="0.6"/>
<text class="se" x="369.0" y="250.3" font-size="7.8" text-anchor="end" textLength="7.8" lengthAdjust="spacingAndGlyphs">10</text>
<line x1="370.3" y1="240.7" x2="372.3" y2="240.7" stroke="#000" stroke-width="0.9"/>
<line x1="371.1" y1="235.8" x2="372.3" y2="235.8" stroke="#000" stroke-width="0.6"/>
<text class="se" x="369.0" y="240.6" font-size="7.8" text-anchor="end" textLength="7.8" lengthAdjust="spacingAndGlyphs">20</text>
<line x1="370.3" y1="231.0" x2="372.3" y2="231.0" stroke="#000" stroke-width="0.9"/>
<line x1="371.1" y1="226.1" x2="372.3" y2="226.1" stroke="#000" stroke-width="0.6"/>
<text class="se" x="369.0" y="230.9" font-size="7.8" text-anchor="end" textLength="7.8" lengthAdjust="spacingAndGlyphs">30</text>
<line x1="370.3" y1="221.2" x2="372.3" y2="221.2" stroke="#000" stroke-width="0.9"/>
<line x1="371.1" y1="216.3" x2="372.3" y2="216.3" stroke="#000" stroke-width="0.6"/>
<text class="se" x="369.0" y="221.2" font-size="7.8" text-anchor="end" textLength="7.8" lengthAdjust="spacingAndGlyphs">40</text>
<line x1="370.3" y1="211.4" x2="372.3" y2="211.4" stroke="#000" stroke-width="0.9"/>
<line x1="371.1" y1="206.5" x2="372.3" y2="206.5" stroke="#000" stroke-width="0.6"/>
<text class="se" x="369.0" y="211.5" font-size="7.8" text-anchor="end" textLength="7.8" lengthAdjust="spacingAndGlyphs">50</text>
<line x1="370.3" y1="201.6" x2="372.3" y2="201.6" stroke="#000" stroke-width="0.9"/>
<line x1="371.1" y1="196.7" x2="372.3" y2="196.7" stroke="#000" stroke-width="0.6"/>
<text class="se" x="369.0" y="201.8" font-size="7.8" text-anchor="end" textLength="7.8" lengthAdjust="spacingAndGlyphs">60</text>
<line x1="370.3" y1="191.8" x2="372.3" y2="191.8" stroke="#000" stroke-width="0.9"/>
<line x1="371.1" y1="186.9" x2="372.3" y2="186.9" stroke="#000" stroke-width="0.6"/>
<text class="se" x="369.0" y="192.1" font-size="7.8" text-anchor="end" textLength="7.8" lengthAdjust="spacingAndGlyphs">70</text>
<line x1="370.3" y1="182.1" x2="372.3" y2="182.1" stroke="#000" stroke-width="0.9"/>
<line x1="371.1" y1="177.2" x2="372.3" y2="177.2" stroke="#000" stroke-width="0.6"/>
<text class="se" x="369.0" y="182.4" font-size="7.8" text-anchor="end" textLength="7.8" lengthAdjust="spacingAndGlyphs">80</text>
<line x1="370.3" y1="172.3" x2="372.3" y2="172.3" stroke="#000" stroke-width="0.9"/>
<line x1="371.1" y1="167.4" x2="372.3" y2="167.4" stroke="#000" stroke-width="0.6"/>
<text class="se" x="369.0" y="172.7" font-size="7.8" text-anchor="end" textLength="7.8" lengthAdjust="spacingAndGlyphs">90</text>
<line x1="370.3" y1="162.5" x2="372.3" y2="162.5" stroke="#000" stroke-width="0.9"/>
<text class="se" x="369.0" y="163.0" font-size="7.8" text-anchor="end" textLength="11.7" lengthAdjust="spacingAndGlyphs">100</text>
<text class="se" x="354.4" y="245.6" font-size="9" transform="rotate(-90 354.4 245.6)" textLength="67.8" lengthAdjust="spacingAndGlyphs">% annexin V+ cells</text>
<rect x="386.5" y="198.7" width="4.8" height="61.6" fill="#fff" stroke="#000" stroke-width="0.8"/>
<rect x="393.2" y="251.1" width="5.0" height="9.2" fill="#fff" stroke="#000" stroke-width="0.8"/>
<rect x="403.2" y="221.5" width="5.0" height="38.8" fill="#222" stroke="none" stroke-width="0.6"/>
<rect x="412.0" y="254.0" width="5.0" height="6.3" fill="#222" stroke="none" stroke-width="0.6"/>
<rect x="419.6" y="213.4" width="5.0" height="46.9" fill="#222" stroke="none" stroke-width="0.6"/>
<rect x="427.2" y="254.8" width="5.0" height="5.5" fill="#222" stroke="none" stroke-width="0.6"/>
<rect x="437.7" y="254.6" width="4.2" height="5.7" fill="url(#hat)" stroke="#000" stroke-width="0.7"/>
<text class="se" x="382.2" y="255.1" font-size="7.0" transform="rotate(-90 382.2 255.1)">2.9</text>
<text class="se" x="390.6" y="196.6" font-size="7.0" transform="rotate(-90 390.6 196.6)">64.7</text>
<text class="se" x="398.8" y="249.2" font-size="7.0" transform="rotate(-90 398.8 249.2)">10.3</text>
<text class="se" x="409.8" y="218.4" font-size="7.0" transform="rotate(-90 409.8 218.4)">44.6</text>
<text class="se" x="417.2" y="252.8" font-size="7.0" transform="rotate(-90 417.2 252.8)">7.4</text>
<text class="se" x="424.6" y="212.0" font-size="7.0" transform="rotate(-90 424.6 212.0)">47.6</text>
<text class="se" x="432.6" y="252.9" font-size="7.0" transform="rotate(-90 432.6 252.9)">8.5</text>
<text class="se" x="442.4" y="252.9" font-size="7.0" transform="rotate(-90 442.4 252.9)">8.3</text>
<text class="se" x="378.4" y="273.1" font-size="8.6" text-anchor="middle" font-weight="bold">-</text>
<text class="se" x="387.8" y="273.1" font-size="8.6" text-anchor="middle" font-weight="bold">-</text>
<text class="se" x="396.1" y="273.7" font-size="9" text-anchor="middle" font-weight="bold">+</text>
<text class="se" x="404.5" y="273.1" font-size="8.6" text-anchor="middle" font-weight="bold">-</text>
<text class="se" x="412.5" y="273.7" font-size="9" text-anchor="middle" font-weight="bold">+</text>
<text class="se" x="420.6" y="273.1" font-size="8.6" text-anchor="middle" font-weight="bold">-</text>
<text class="se" x="429.1" y="273.7" font-size="9" text-anchor="middle" font-weight="bold">+</text>
<text class="se" x="381.4" y="285.2" font-size="9.2" textLength="47.2" lengthAdjust="spacingAndGlyphs">anti-Fas mAb</text>
<rect x="454.2" y="174.8" width="5.3" height="5.3" fill="#000" stroke="none" stroke-width="0.6"/>
<text class="se" x="465.9" y="180.6" font-size="9.2">nil</text>
<rect x="454.6" y="184.3" width="4.6" height="4.6" fill="#fff" stroke="#000" stroke-width="0.6"/>
<text class="se" x="465.9" y="189.6" font-size="9.2" textLength="25.6" lengthAdjust="spacingAndGlyphs">Fas-XL</text>
<rect x="454.2" y="193.5" width="5.3" height="5.3" fill="#222" stroke="none" stroke-width="0.6"/>
<text class="se" x="465.9" y="199.4" font-size="9.2" textLength="34.8" lengthAdjust="spacingAndGlyphs">OKT8-XL</text>
<rect x="454.2" y="205.2" width="5.3" height="5.3" fill="#222" stroke="none" stroke-width="0.6"/>
<text class="se" x="465.9" y="211.0" font-size="9.2" textLength="26.6" lengthAdjust="spacingAndGlyphs">sHLA-I</text>
<rect x="454.6" y="221.9" width="5.0" height="5.0" fill="url(#hat)" stroke="#000" stroke-width="0.6"/>
<text class="se" x="462.8" y="224.0" font-size="9.2" textLength="43.6" lengthAdjust="spacingAndGlyphs">sHLA-I plus</text>
<text class="se" x="462.8" y="232.2" font-size="9.2" textLength="52.6" lengthAdjust="spacingAndGlyphs">anti-FasL mAb</text>
</g></svg></body></html>
